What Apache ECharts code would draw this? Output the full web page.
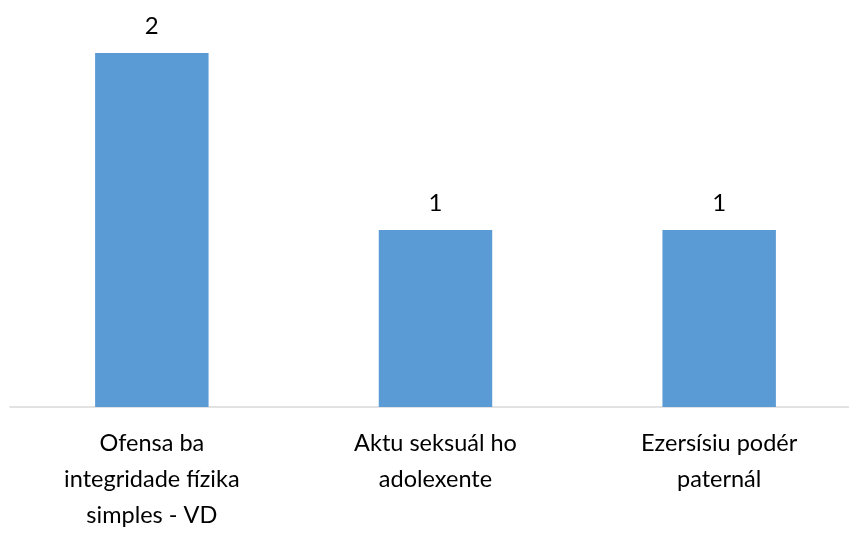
<!DOCTYPE html>
<html>
<head>
<meta charset="utf-8">
<script src="https://cdn.jsdelivr.net/npm/echarts@6/dist/echarts.min.js"></script>
<style>
  html, body { margin: 0; padding: 0; background: #fff; overflow: hidden; }
  .main { width: 861px; height: 548px; }
</style>
</head>
<body>
<div class="main"></div>
<script>
  const categories = [
    'Ofensa ba\nintegridade fízika\nsimples - VD',
    'Aktu seksuál ho\nadolexente',
    'Ezersísiu podér\npaternál'
  ];
  const values = [2, 1, 1];

  let myChart = echarts.init(document.querySelector('.main'));

  let option = {
    animation: false,
    grid: {
      left: 10,
      top: 53,
      right: 0,
      bottom: 141
    },
    xAxis: {
      type: 'category',
      data: categories,
      axisLine: { lineStyle: { color: '#D9D9D9', width: 1.5 } },
      axisTick: { show: false },
      axisLabel: {
        color: '#000',
        fontFamily: 'Lato',
        fontSize: 23.5,
        lineHeight: 36,
        margin: 18,
        interval: 0
      }
    },
    yAxis: {
      type: 'value',
      min: 0,
      max: 2,
      show: false
    },
    series: [{
      type: 'bar',
      data: values,
      barWidth: '40%',
      itemStyle: { color: '#5B9BD5' },
      label: {
        show: true,
        position: 'top',
        distance: 15,
        color: '#000',
        fontFamily: 'Lato',
        fontSize: 24
      }
    }]
  };

  myChart.setOption(option);
</script>
</body>
</html>
